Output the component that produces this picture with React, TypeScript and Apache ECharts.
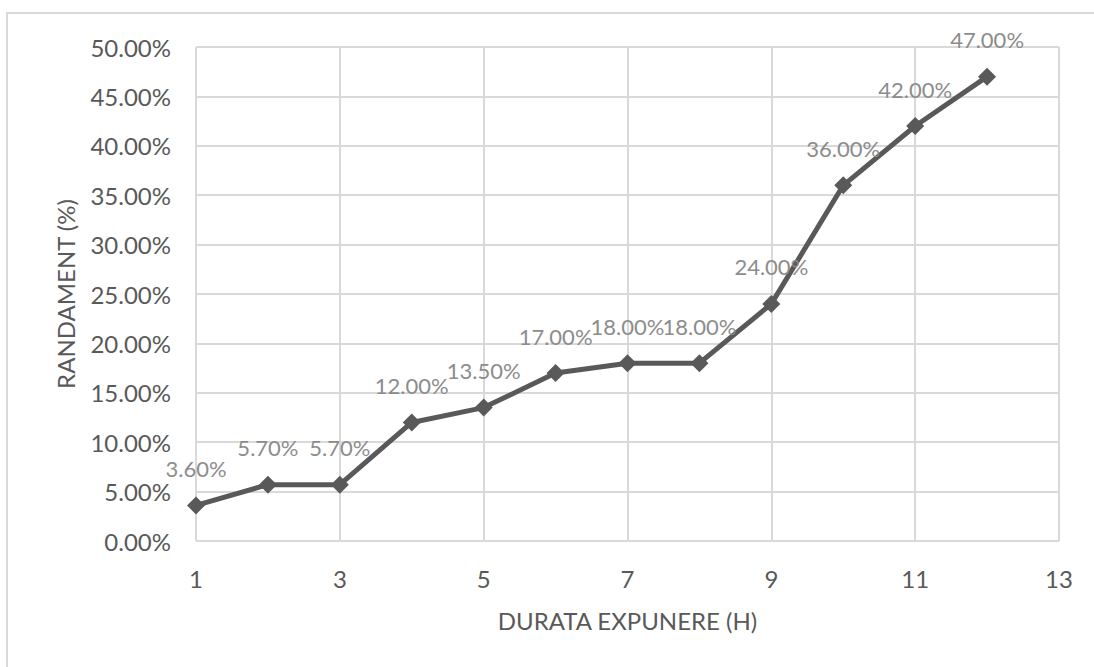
import React, { useEffect, useRef } from "react";
import * as echarts from "echarts";

// Exposure duration (hours) and yield (%)
const hours = [1, 2, 3, 4, 5, 6, 7, 8, 9, 10, 11, 12];
const yieldPct = [3.6, 5.7, 5.7, 12.0, 13.5, 17.0, 18.0, 18.0, 24.0, 36.0, 42.0, 47.0];

const xAxisTitle = "DURATA EXPUNERE (H)";
const yAxisTitle = "RANDAMENT (%)";

const FONT = "Lato, 'Open Sans', sans-serif";
const AXIS_TEXT = "#595959";
const LABEL_TEXT = "#8c8c8c";
const GRID_LINE = "#d9d9d9";

export default function App() {
  const ref = useRef<HTMLDivElement>(null);

  useEffect(() => {
    if (!ref.current) return;
    const chart = echarts.init(ref.current, undefined, { renderer: "svg" });
    chart.setOption({
      animation: false,
      backgroundColor: "#ffffff",
      textStyle: { fontFamily: FONT },
      graphic: [
        {
          type: "rect",
          shape: { x: 7, y: 13, width: 1200, height: 800 },
          style: { fill: "none", stroke: GRID_LINE, lineWidth: 2 },
          silent: true,
        },
      ],
      grid: { left: 196, top: 47, right: 35, bottom: 126 },
      xAxis: {
        type: "value",
        min: 1,
        max: 13,
        interval: 2,
        name: xAxisTitle,
        nameLocation: "middle",
        nameGap: 67,
        nameTextStyle: { color: AXIS_TEXT, fontSize: 24, fontFamily: FONT },
        axisLine: { show: false },
        axisTick: { show: false },
        axisLabel: { color: AXIS_TEXT, fontSize: 24, margin: 25, fontFamily: FONT },
        splitLine: { show: true, lineStyle: { color: GRID_LINE, width: 2 } },
      },
      yAxis: {
        type: "value",
        min: 0,
        max: 50,
        interval: 5,
        name: yAxisTitle,
        nameLocation: "middle",
        nameGap: 119,
        nameRotate: 90,
        nameTextStyle: { color: AXIS_TEXT, fontSize: 24, fontFamily: FONT },
        axisLine: { show: false },
        axisTick: { show: false },
        axisLabel: {
          color: AXIS_TEXT,
          fontSize: 24,
          margin: 25,
          fontFamily: FONT,
          formatter: (v: number) => v.toFixed(2) + "%",
        },
        splitLine: { show: true, lineStyle: { color: GRID_LINE, width: 2 } },
      },
      series: [
        {
          type: "line",
          data: hours.map((h, i) => [h, yieldPct[i]]),
          smooth: false,
          symbol: "diamond",
          symbolSize: 18,
          itemStyle: { color: "#595959" },
          lineStyle: { color: "#595959", width: 5 },
          label: {
            show: true,
            position: "top",
            distance: 17,
            color: LABEL_TEXT,
            fontSize: 22,
            fontFamily: FONT,
            formatter: (p: any) => p.value[1].toFixed(2) + "%",
          },
        },
      ],
    });
    return () => chart.dispose();
  }, []);

  return (
    <div
      ref={ref}
      style={{ position: "absolute", left: 0, top: 0, width: 1094, height: 667 }}
    />
  );
}
